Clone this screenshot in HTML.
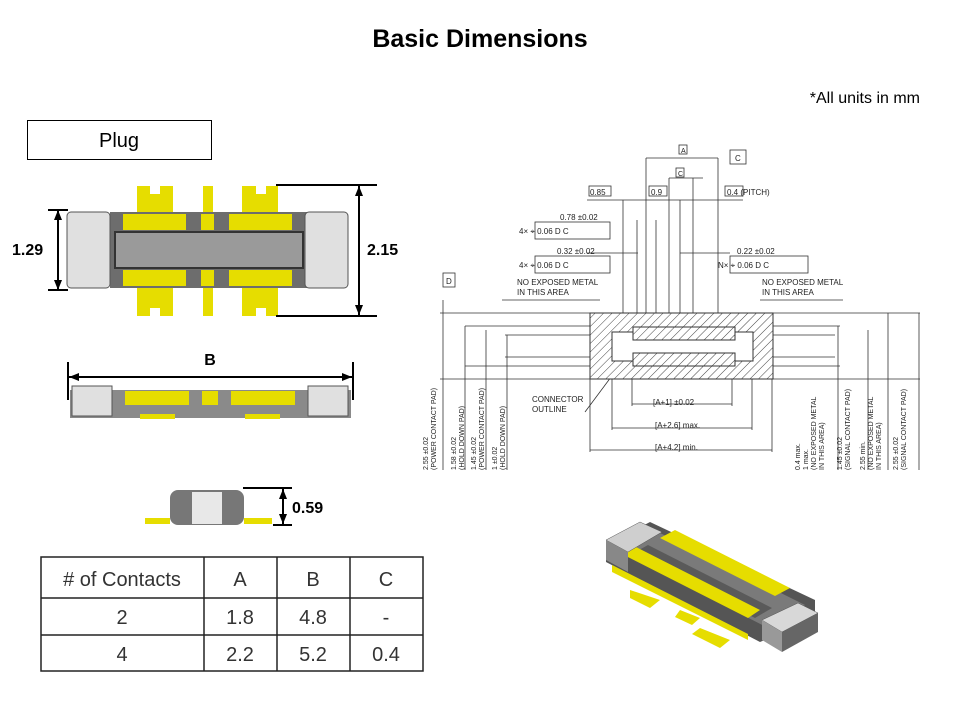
<!DOCTYPE html>
<html><head><meta charset="utf-8"><style>
html,body{margin:0;background:#fff;width:960px;height:720px;overflow:hidden;}
svg{display:block}
text{font-family:"Liberation Sans",Arial,sans-serif;}
.m{font-family:"Liberation Mono",monospace;font-size:8px;fill:#222}
</style></head><body>
<svg width="960" height="720" viewBox="0 0 960 720" xmlns="http://www.w3.org/2000/svg">
<defs>
<pattern id="h" width="6" height="6" patternUnits="userSpaceOnUse" patternTransform="rotate(45)">
<rect width="6" height="6" fill="#fff"/><line x1="0" y1="0" x2="0" y2="6" stroke="#444" stroke-width="1"/></pattern>
<marker id="a" markerUnits="userSpaceOnUse" markerWidth="10" markerHeight="8" refX="10" refY="4" orient="auto-start-reverse"><path d="M0,0 L10,4 L0,8z" fill="#000"/></marker>
</defs>
<text x="480" y="47" text-anchor="middle" font-size="25" font-weight="bold">Basic Dimensions</text>
<text x="920" y="103" text-anchor="end" font-size="16">*All units in mm</text>
<rect x="27.5" y="120.5" width="184" height="39" fill="#fff" stroke="#000"/>
<text x="119" y="147" text-anchor="middle" font-size="20">Plug</text>

<!-- top view -->
<g>
<rect x="137" y="186" width="36" height="30" fill="#e6dd00"/><rect x="203" y="186" width="10" height="30" fill="#e6dd00"/><rect x="242" y="186" width="36" height="30" fill="#e6dd00"/>
<rect x="137" y="286" width="36" height="30" fill="#e6dd00"/><rect x="203" y="286" width="10" height="30" fill="#e6dd00"/><rect x="242" y="286" width="36" height="30" fill="#e6dd00"/>
<rect x="150" y="186" width="10" height="8" fill="#fff"/><rect x="256" y="186" width="10" height="8" fill="#fff"/>
<rect x="150" y="308" width="10" height="8" fill="#fff"/><rect x="256" y="308" width="10" height="8" fill="#fff"/>
<rect x="110" y="212" width="200" height="76" fill="#6d6d6d"/>
<rect x="123" y="214" width="63" height="16" fill="#e6dd00"/><rect x="229" y="214" width="63" height="16" fill="#e6dd00"/><rect x="201" y="214" width="13" height="16" fill="#e6dd00"/>
<rect x="123" y="270" width="63" height="16" fill="#e6dd00"/><rect x="229" y="270" width="63" height="16" fill="#e6dd00"/><rect x="201" y="270" width="13" height="16" fill="#e6dd00"/>
<rect x="115" y="232" width="188" height="36" fill="#9a9a9a" stroke="#333" stroke-width="2"/>
<rect x="67" y="212" width="43" height="76" rx="4" fill="#e0e0e0" stroke="#555"/>
<rect x="305" y="212" width="43" height="76" rx="4" fill="#e0e0e0" stroke="#555"/>
</g>
<line x1="58" y1="210" x2="58" y2="290" stroke="#000" stroke-width="2" marker-start="url(#a)" marker-end="url(#a)"/>
<line x1="48" y1="210" x2="68" y2="210" stroke="#000" stroke-width="2"/><line x1="48" y1="290" x2="68" y2="290" stroke="#000" stroke-width="2"/>
<text x="12" y="255" font-size="16" font-weight="bold">1.29</text>
<line x1="276" y1="185" x2="377" y2="185" stroke="#000" stroke-width="2"/><line x1="276" y1="316" x2="377" y2="316" stroke="#000" stroke-width="2"/>
<line x1="359" y1="186" x2="359" y2="315" stroke="#000" stroke-width="2" marker-start="url(#a)" marker-end="url(#a)"/>
<text x="367" y="255" font-size="16" font-weight="bold">2.15</text>

<!-- side view -->
<text x="210" y="365" text-anchor="middle" font-size="16" font-weight="bold">B</text>
<line x1="68" y1="362" x2="68" y2="400" stroke="#000" stroke-width="2"/><line x1="353" y1="362" x2="353" y2="400" stroke="#000" stroke-width="2"/>
<line x1="69" y1="377" x2="352" y2="377" stroke="#000" stroke-width="2" marker-start="url(#a)" marker-end="url(#a)"/>
<rect x="70" y="390" width="281" height="28" fill="#8a8a8a"/>
<rect x="72" y="386" width="40" height="30" fill="#e0e0e0" stroke="#555"/><rect x="308" y="386" width="40" height="30" fill="#e0e0e0" stroke="#555"/>
<rect x="125" y="391" width="64" height="14" fill="#e6dd00"/><rect x="231" y="391" width="64" height="14" fill="#e6dd00"/><rect x="202" y="391" width="16" height="14" fill="#e6dd00"/>
<rect x="140" y="414" width="35" height="5" fill="#e6dd00"/><rect x="245" y="414" width="35" height="5" fill="#e6dd00"/>

<!-- end view -->
<rect x="170" y="490" width="74" height="35" rx="8" fill="#777"/>
<rect x="192" y="492" width="30" height="32" fill="#e8e8e8"/>
<rect x="145" y="518" width="25" height="6" fill="#e6dd00"/><rect x="244" y="518" width="28" height="6" fill="#e6dd00"/>
<line x1="243" y1="488" x2="292" y2="488" stroke="#000" stroke-width="2"/><line x1="273" y1="525" x2="292" y2="525" stroke="#000" stroke-width="2"/>
<line x1="283" y1="489" x2="283" y2="524" stroke="#000" stroke-width="2" marker-start="url(#a)" marker-end="url(#a)"/>
<text x="292" y="513" font-size="16" font-weight="bold">0.59</text>

<!-- table -->
<g stroke="#222" stroke-width="1.5" fill="none">
<rect x="41" y="557" width="382" height="114"/>
<line x1="41" y1="598" x2="423" y2="598"/><line x1="41" y1="635" x2="423" y2="635"/>
<line x1="204" y1="557" x2="204" y2="671"/><line x1="277" y1="557" x2="277" y2="671"/><line x1="350" y1="557" x2="350" y2="671"/>
</g>
<g font-size="20" text-anchor="middle" fill="#333">
<text x="122" y="586">#&#160;of Contacts</text><text x="240" y="586">A</text><text x="313" y="586">B</text><text x="386" y="586">C</text>
<text x="122" y="624">2</text><text x="240" y="624">1.8</text><text x="313" y="624">4.8</text><text x="386" y="624">-</text>
<text x="122" y="661">4</text><text x="240" y="661">2.2</text><text x="313" y="661">5.2</text><text x="386" y="661">0.4</text>
</g>

<!-- technical drawing -->
<g stroke="#333" stroke-width="0.8" fill="none">
<line x1="440" y1="313" x2="920" y2="313"/><line x1="440" y1="379" x2="920" y2="379"/>
<line x1="465" y1="326" x2="840" y2="326"/><line x1="465" y1="366" x2="840" y2="366"/>
<line x1="505" y1="335" x2="835" y2="335"/><line x1="505" y1="357" x2="835" y2="357"/>
<line x1="443" y1="300" x2="443" y2="470"/><line x1="465" y1="326" x2="465" y2="470"/><line x1="486" y1="330" x2="486" y2="470"/><line x1="507" y1="335" x2="507" y2="470"/>
<line x1="838" y1="326" x2="838" y2="470"/><line x1="868" y1="330" x2="868" y2="470"/><line x1="888" y1="313" x2="888" y2="470"/><line x1="919" y1="313" x2="919" y2="470"/>
<rect x="443" y="273" width="12" height="14"/>
<line x1="646" y1="158" x2="718" y2="158"/><line x1="646" y1="158" x2="646" y2="315"/><line x1="718" y1="158" x2="718" y2="315"/>
<line x1="669" y1="178" x2="703" y2="178"/><line x1="669" y1="178" x2="669" y2="315"/><line x1="680" y1="200" x2="680" y2="315"/><line x1="693" y1="178" x2="693" y2="315"/>
<line x1="587" y1="200" x2="743" y2="200"/><line x1="623" y1="200" x2="623" y2="315"/><line x1="637" y1="220" x2="637" y2="315"/><line x1="656" y1="220" x2="656" y2="315"/>
<line x1="587" y1="253" x2="638" y2="253"/><line x1="680" y1="253" x2="730" y2="253"/>
<line x1="502" y1="300" x2="600" y2="300"/><line x1="760" y1="300" x2="843" y2="300"/>
<line x1="632" y1="404" x2="732" y2="404"/><line x1="612" y1="428" x2="752" y2="428"/><line x1="590" y1="450" x2="772" y2="450"/>
<line x1="632" y1="370" x2="632" y2="406"/><line x1="732" y1="370" x2="732" y2="406"/><line x1="612" y1="360" x2="612" y2="430"/><line x1="752" y1="360" x2="752" y2="430"/><line x1="590" y1="379" x2="590" y2="452"/><line x1="772" y1="379" x2="772" y2="452"/>
<line x1="585" y1="412" x2="620" y2="365"/>
<rect x="679" y="145" width="8" height="9"/><rect x="730" y="150" width="16" height="14"/><rect x="676" y="168" width="8" height="9"/>
<rect x="589" y="186" width="22" height="10"/><rect x="649" y="186" width="18" height="10"/><rect x="725" y="186" width="18" height="10"/>
<rect x="535" y="222" width="75" height="17"/><rect x="535" y="256" width="75" height="17"/><rect x="730" y="256" width="78" height="17"/>
</g>
<rect x="590" y="313" width="183" height="66" fill="url(#h)" stroke="#333"/>
<rect x="612" y="332" width="141" height="29" fill="#fff" stroke="#333"/>
<rect x="633" y="327" width="102" height="13" fill="url(#h)" stroke="#333"/>
<rect x="633" y="353" width="102" height="13" fill="url(#h)" stroke="#333"/>
<g class="m">
<text x="681" y="153" style="font-size:7px">A</text><text x="735" y="161">C</text><text x="678" y="176" style="font-size:7px">C</text>
<text x="590" y="195">0.85</text><text x="651" y="195">0.9</text><text x="727" y="195">0.4 (PITCH)</text>
<text x="560" y="220">0.78 ±0.02</text><text x="519" y="234">4×  ⌖ 0.06  D  C</text>
<text x="557" y="254">0.32 ±0.02</text><text x="519" y="268">4×  ⌖ 0.06  D  C</text>
<text x="737" y="254">0.22 ±0.02</text><text x="718" y="268">N×  ⌖ 0.06  D  C</text>
<text x="446" y="284">D</text>
<text x="517" y="285">NO EXPOSED METAL</text><text x="517" y="295">IN THIS AREA</text>
<text x="762" y="285">NO EXPOSED METAL</text><text x="762" y="295">IN THIS AREA</text>
<text x="532" y="402">CONNECTOR</text><text x="532" y="412">OUTLINE</text>
<text x="653" y="405">[A+1]  ±0.02</text><text x="655" y="428">[A+2.6]  max.</text><text x="655" y="450">[A+4.2]  min.</text>
</g>
<g class="m" style="font-size:7px">
<text transform="translate(428,470) rotate(-90)">2.55 ±0.02</text><text transform="translate(436,470) rotate(-90)">(POWER CONTACT PAD)</text>
<text transform="translate(456,470) rotate(-90)">1.58 ±0.02</text><text transform="translate(464,470) rotate(-90)">(HOLD DOWN PAD)</text>
<text transform="translate(476,470) rotate(-90)">1.45 ±0.02</text><text transform="translate(484,470) rotate(-90)">(POWER CONTACT PAD)</text>
<text transform="translate(497,470) rotate(-90)">1 ±0.02</text><text transform="translate(505,470) rotate(-90)">(HOLD DOWN PAD)</text>
<text transform="translate(800,470) rotate(-90)">0.4 max.</text><text transform="translate(808,470) rotate(-90)">1 max.</text><text transform="translate(816,470) rotate(-90)">(NO EXPOSED METAL</text><text transform="translate(824,470) rotate(-90)">IN THIS AREA)</text>
<text transform="translate(842,470) rotate(-90)">1.45 ±0.02</text><text transform="translate(850,470) rotate(-90)">(SIGNAL CONTACT PAD)</text>
<text transform="translate(865,470) rotate(-90)">2.55 min.</text><text transform="translate(873,470) rotate(-90)">(NO EXPOSED METAL</text><text transform="translate(881,470) rotate(-90)">IN THIS AREA)</text>
<text transform="translate(898,470) rotate(-90)">2.55 ±0.02</text><text transform="translate(906,470) rotate(-90)">(SIGNAL CONTACT PAD)</text>
</g>

<!-- 3D view -->
<g>
<polygon points="630,590 660,600 650,608 630,598" fill="#e6dd00"/>
<polygon points="680,610 700,618 692,625 675,617" fill="#e6dd00"/>
<polygon points="700,628 730,640 720,648 692,634" fill="#e6dd00"/>
<polygon points="606,545 606,562 760,642 815,618 815,600 650,522" fill="#555"/>
<polygon points="612,548 650,528 805,605 768,628" fill="#7a7a7a"/>
<polygon points="630,555 648,545 772,608 755,618" fill="#5a5a5a"/>
<polygon points="660,538 675,530 790,588 775,596" fill="#e6dd00"/>
<polygon points="618,552 632,545 760,610 748,618" fill="#e6dd00"/>
<polygon points="612,565 748,634 748,640 612,572" fill="#e6dd00"/>
<polygon points="606,540 640,522 662,532 628,552" fill="#cfcfcf" stroke="#555" stroke-width="0.5"/>
<polygon points="606,540 628,552 628,572 606,560" fill="#888"/>
<polygon points="762,620 798,603 818,613 782,632" fill="#d8d8d8" stroke="#555" stroke-width="0.5"/>
<polygon points="762,620 782,632 782,652 762,640" fill="#999"/>
<polygon points="782,632 818,613 818,632 782,652" fill="#666"/>
</g>
</svg>
</body></html>
